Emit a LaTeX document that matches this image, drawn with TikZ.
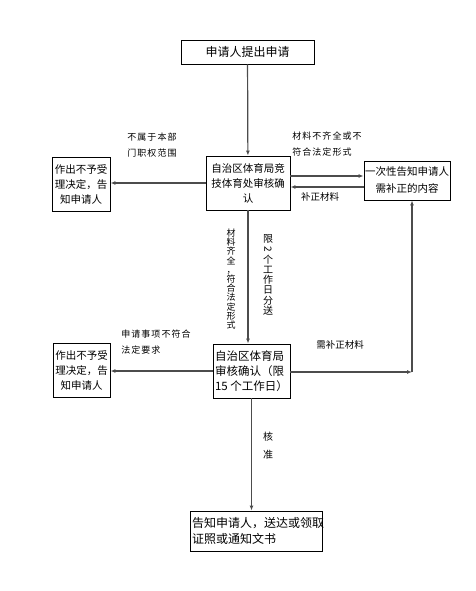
\documentclass[tikz,border=0pt]{standalone}
\usepackage{fontspec}
\setmainfont{Noto Sans CJK SC}
\usetikzlibrary{arrows.meta, positioning}

\begin{document}
\begin{tikzpicture}[
    x=1pt, y=-1pt,
    >={Latex[length=5pt,width=4pt]},
    font=\fontsize{10.5}{15}\selectfont,
    box/.style={rectangle, draw, line width=0.9pt, inner sep=1pt, align=center},
    line/.style={->, draw=black!70, line width=1.2pt},
    lbl/.style={font=\fontsize{9}{16}\selectfont\addfontfeature{LetterSpace=12}, align=left, inner sep=0pt},
    vlbl/.style={font=\fontsize{9}{9.2}\selectfont, align=center, inner sep=0pt}
]
\useasboundingbox (0,0) rectangle (475,591);
% boxes
\node[box, minimum width=133pt, minimum height=24pt, font=\fontsize{12}{14}\selectfont] (apply) at (247.5,52) {申请人提出申请};
\node[box, minimum width=84pt, minimum height=54pt] (review) at (248,183) {自治区体育局竞\\技体育处审核确\\认};
\node[box, minimum width=58pt, minimum height=54pt] (reject1) at (81,184) {作出不予受\\理决定，告\\知申请人};
\node[box, minimum width=86pt, minimum height=39pt, font=\fontsize{10.5}{17}\selectfont] (notify) at (407,180.5) {一次性告知申请人\\需补正的内容};
\node[box, minimum width=77pt, minimum height=54pt, align=left, font=\fontsize{11.5}{15}\selectfont] (confirm) at (251.5,371) {自治区体育局\\审核确认（限\\15 个工作日）};
\node[box, minimum width=57pt, minimum height=54pt] (reject2) at (81.5,370) {作出不予受\\理决定，告\\知申请人};
\node[box, minimum width=132pt, minimum height=40pt, text width=128pt, align=left, font=\fontsize{12}{16}\selectfont] (result) at (256,531) {告知申请人，送达或领取\\证照或通知文书};
% labels
\node[lbl] (outscope) at (152,145) {不属于本部\\门职权范围};
\node[lbl] (incomplete) at (327,144) {材料不齐全或不\\符合法定形式};
\node[lbl, font=\fontsize{9.5}{12}\selectfont] (supply) at (320,197) {补正材料};
\node[vlbl] (complete) at (231,279) {材\\料\\齐\\全\\，\\符\\合\\法\\定\\形\\式};
\node[vlbl, font=\fontsize{10}{10.2}\selectfont] (forward) at (268,275) {限\\\rotatebox[origin=c]{-90}{2}\\个\\工\\作\\日\\分\\送};
\node[lbl] (unlawful) at (156,342) {申请事项不符合\\法定要求};
\node[lbl, font=\fontsize{9.5}{12}\selectfont] (needsupply) at (340,345) {需补正材料};
\node[vlbl, font=\fontsize{10}{18}\selectfont] (approve) at (268,446) {核\\准};
% connectors
\coordinate (turn) at (412,372);
\draw[line] (apply) -- (review);
\draw[line] (review.west) -- (review.west -| reject1.east);
\draw[line] (review.east |- 0,176) -- (notify.west |- 0,176);
\draw[line] (notify.west |- 0,187) -- (review.east |- 0,187);
\draw[line] (review.south) -- (review.south |- confirm.north);
\draw[line] (confirm.west) -- (confirm.west -| reject2.east);
\draw[line] (confirm.east |- turn) -- (turn);
\draw[line] (turn) -- (turn |- notify.south);
\draw[line] (confirm.south) -- (confirm.south |- result.north);
\end{tikzpicture}
\end{document}
